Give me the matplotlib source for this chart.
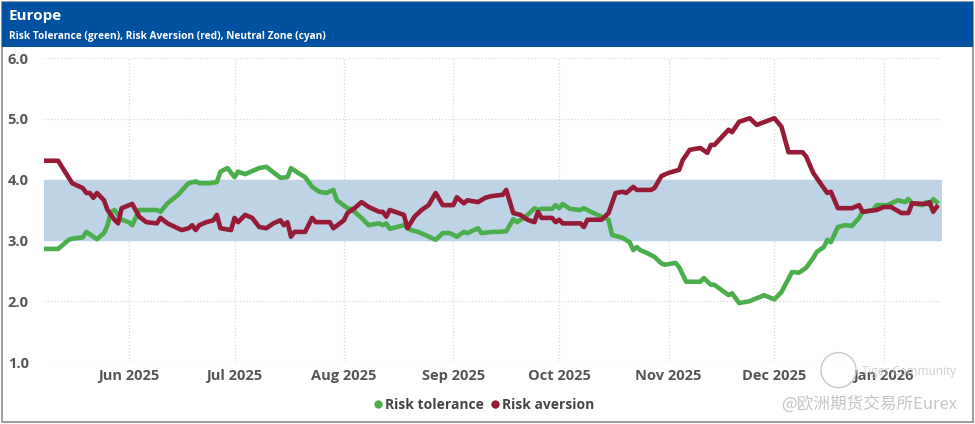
import datetime as dt

import matplotlib
matplotlib.use("Agg")
import matplotlib.pyplot as plt
import matplotlib.dates as mdates
import matplotlib.patches as patches
from matplotlib.lines import Line2D

plt.rcParams['font.family'] = ['Open Sans', 'Noto Sans CJK SC', 'DejaVu Sans']

# days counted from 1 May 2025
base = dt.datetime(2025, 5, 1)

aversion_days = [7, 11, 15, 18, 19, 20, 21, 22, 24, 25, 27, 28, 29, 32, 34, 36, 39, 40, 42, 46,
                 48, 49, 50, 51, 53, 55, 56, 57, 60, 61, 62, 64, 66, 68, 70, 72, 74, 75, 76, 77,
                 78, 81, 83, 84, 85, 88, 89, 92, 93, 95, 97, 99, 102, 103, 104, 105, 109, 110, 112, 114,
                 116, 118, 120, 123, 124, 126, 127, 130, 132, 134, 137, 138, 140, 142, 144, 146, 147, 148, 151, 152,
                 153, 154, 159, 160, 161, 165, 167, 169, 171, 172, 174, 175, 179, 180, 182, 184, 187, 188, 190, 193,
                 195, 196, 197, 201, 202, 204, 207, 209, 214, 216, 218, 222, 223, 225, 228, 229, 230, 232, 236, 238,
                 239, 243, 245, 247, 250, 252, 253, 257, 258, 259, 260]
aversion = [4.31, 4.31, 3.94, 3.86, 3.78, 3.78, 3.70, 3.78, 3.66, 3.50, 3.34, 3.28, 3.53, 3.60, 3.39, 3.30, 3.28, 3.37, 3.28, 3.17,
            3.20, 3.25, 3.17, 3.25, 3.30, 3.33, 3.42, 3.20, 3.17, 3.37, 3.30, 3.42, 3.37, 3.22, 3.20, 3.28, 3.33, 3.25, 3.30, 3.06,
            3.14, 3.14, 3.37, 3.30, 3.30, 3.30, 3.20, 3.33, 3.45, 3.53, 3.63, 3.55, 3.47, 3.47, 3.39, 3.50, 3.42, 3.20, 3.39, 3.50,
            3.58, 3.78, 3.58, 3.58, 3.71, 3.61, 3.66, 3.63, 3.70, 3.73, 3.75, 3.83, 3.45, 3.42, 3.34, 3.30, 3.47, 3.37, 3.37, 3.30,
            3.34, 3.28, 3.28, 3.22, 3.34, 3.34, 3.45, 3.78, 3.80, 3.78, 3.88, 3.83, 3.83, 3.86, 4.06, 4.11, 4.16, 4.32, 4.49, 4.52,
            4.44, 4.57, 4.57, 4.82, 4.78, 4.95, 5.01, 4.90, 5.01, 4.87, 4.45, 4.45, 4.38, 4.11, 3.86, 3.78, 3.80, 3.53, 3.53, 3.58,
            3.47, 3.50, 3.55, 3.55, 3.45, 3.45, 3.61, 3.60, 3.63, 3.47, 3.55]

tolerance_days = [7, 11, 14, 15, 18, 19, 22, 24, 25, 26, 27, 29, 31, 32, 34, 36, 39, 40, 42, 45,
                  47, 48, 50, 51, 54, 56, 57, 59, 61, 62, 64, 68, 70, 74, 76, 77, 79, 81, 83, 85,
                  87, 89, 90, 93, 94, 97, 99, 102, 103, 104, 105, 107, 109, 111, 113, 115, 118, 120, 122, 124,
                  126, 127, 130, 131, 134, 136, 138, 140, 141, 143, 145, 146, 147, 148, 151, 152, 153, 154, 156, 159,
                  160, 162, 165, 167, 168, 171, 173, 174, 175, 176, 178, 180, 182, 183, 186, 187, 189, 193, 194, 196,
                  197, 201, 202, 204, 207, 209, 210, 211, 214, 216, 219, 221, 223, 225, 226, 228, 229, 230, 232, 234,
                  236, 238, 239, 242, 243, 246, 249, 251, 252, 253, 256, 257, 258, 259, 260]
tolerance = [2.86, 2.86, 3.01, 3.03, 3.05, 3.14, 3.02, 3.12, 3.25, 3.47, 3.50, 3.34, 3.30, 3.25, 3.50, 3.50, 3.50, 3.47, 3.61, 3.75,
             3.88, 3.94, 3.97, 3.94, 3.94, 3.96, 4.13, 4.19, 4.04, 4.13, 4.09, 4.19, 4.21, 4.03, 4.04, 4.19, 4.11, 4.04, 3.88, 3.80,
             3.78, 3.83, 3.66, 3.53, 3.52, 3.37, 3.25, 3.28, 3.25, 3.28, 3.19, 3.22, 3.25, 3.17, 3.14, 3.09, 3.01, 3.12, 3.12, 3.06,
             3.14, 3.12, 3.20, 3.12, 3.14, 3.14, 3.15, 3.35, 3.30, 3.37, 3.47, 3.53, 3.50, 3.52, 3.52, 3.58, 3.53, 3.60, 3.52, 3.50,
             3.53, 3.47, 3.39, 3.34, 3.09, 3.04, 2.97, 2.84, 2.89, 2.84, 2.79, 2.73, 2.62, 2.60, 2.63, 2.56, 2.32, 2.32, 2.38, 2.27,
             2.27, 2.10, 2.13, 1.97, 2.00, 2.05, 2.07, 2.10, 2.03, 2.15, 2.48, 2.47, 2.55, 2.71, 2.81, 2.89, 3.01, 2.97, 3.22, 3.25,
             3.24, 3.37, 3.47, 3.50, 3.58, 3.58, 3.66, 3.63, 3.68, 3.61, 3.58, 3.63, 3.58, 3.68, 3.63]

neutral_zone = (3.0, 4.0)
month_ticks = [dt.datetime(2025, m, 1) for m in range(6, 13)] + [dt.datetime(2026, 1, 1)]
y_ticks = [1.0, 2.0, 3.0, 4.0, 5.0, 6.0]

title = "Europe"
subtitle = "Risk Tolerance (green), Risk Aversion (red), Neutral Zone (cyan)"

green = '#4aae4a'
red = '#951b36'
gray = '#555555'

fig = plt.figure(figsize=(9.75, 4.24), dpi=100, facecolor='white')

# frame and header bar
fig.patches.append(patches.Rectangle((0.002, 0.004), 0.996, 0.992, transform=fig.transFigure,
                                     facecolor='none', edgecolor='#8a8a8a', linewidth=1.2, zorder=0))
fig.patches.append(patches.Rectangle((0.002, 0.889), 0.996, 0.107, transform=fig.transFigure,
                                     facecolor='#0051a0', edgecolor='none', zorder=1))
fig.text(0.009, 0.963, title, color='white', fontsize=11, fontweight='bold', va='center')
fig.text(0.009, 0.913, subtitle, color='white', fontsize=7.3, fontweight='bold', va='center')

ax = fig.add_axes([44 / 975, 62 / 424, 898 / 975, 304 / 424])
ax.set_facecolor('none')

tol_dates = [base + dt.timedelta(days=d) for d in tolerance_days]
av_dates = [base + dt.timedelta(days=d) for d in aversion_days]

ax.axhspan(neutral_zone[0], neutral_zone[1], color='#bfd3e6', zorder=1)
ax.plot(tol_dates, tolerance, color=green, linewidth=3.3, solid_joinstyle='round', zorder=3)
ax.plot(av_dates, aversion, color=red, linewidth=3.3, solid_joinstyle='round', zorder=3)

ax.set_xlim(base + dt.timedelta(days=7), base + dt.timedelta(days=261.5))
ax.set_ylim(1.0, 6.0)
ax.set_yticks(y_ticks)
ax.set_yticklabels([f"{v:.1f}" for v in y_ticks])
ax.set_xticks(month_ticks)
ax.xaxis.set_major_formatter(mdates.DateFormatter('%b %Y'))

ax.grid(True, color='#d8d8d8', linestyle=':', linewidth=0.9, zorder=0)
ax.set_axisbelow(True)
for s in ax.spines.values():
    s.set_visible(False)
ax.tick_params(length=0, colors=gray, labelsize=10.5)
ax.tick_params(axis='y', pad=11)
ax.tick_params(axis='x', pad=5)
for lbl in ax.get_xticklabels() + ax.get_yticklabels():
    lbl.set_fontweight('bold')

handles = [Line2D([], [], marker='o', color='none', markerfacecolor=green, markeredgecolor='none', markersize=6),
           Line2D([], [], marker='o', color='none', markerfacecolor=red, markeredgecolor='none', markersize=6)]
fig.legend(handles, ['Risk tolerance', 'Risk aversion'], loc='center', bbox_to_anchor=(0.496, 0.045),
           ncol=2, frameon=False, handletextpad=0.1, columnspacing=0.4, handlelength=0.8,
           prop={'weight': 'bold', 'size': 10}, labelcolor='#444444')

# source watermark
fig.text(0.98, 0.125, "Tiger Community", color='#c4c4c4', fontsize=8.5, ha='right', va='center', alpha=0.8)
fig.text(0.982, 0.048, "@欧洲期货交易所Eurex", color='#c0c0c0', fontsize=12, ha='right', va='center',
         family=['Noto Sans CJK SC', 'DejaVu Sans'], alpha=0.9)
fig.patches.append(patches.Ellipse((0.86, 0.127), 0.036, 0.036 * 975 / 424, transform=fig.transFigure,
                                   facecolor='none', edgecolor='#c8c8c8', linewidth=1.0, zorder=5))

fig.savefig('out.png', dpi=100)
